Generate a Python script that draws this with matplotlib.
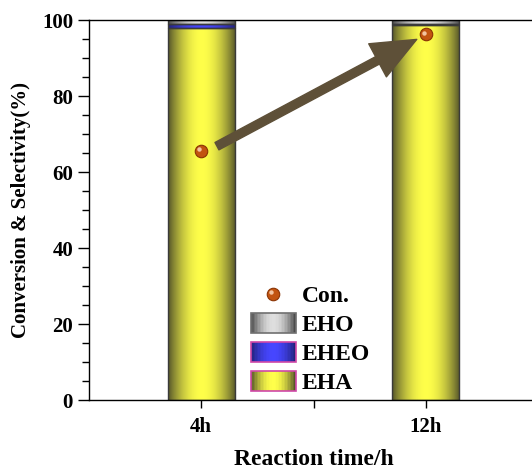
import numpy as np
import matplotlib
matplotlib.use('Agg')
import matplotlib.pyplot as plt
from matplotlib.patches import Rectangle
from matplotlib.lines import Line2D
from matplotlib.legend_handler import HandlerBase
from matplotlib.colors import to_rgb
from matplotlib.ticker import MultipleLocator
import matplotlib.transforms as transforms

times = ['4h', '12h']
eha = [98.0, 98.6]
eheo = [1.0, 0.4]
eho = [1.0, 1.0]
conversion = [65.5, 96.2]

plt.rcParams['font.family'] = ['Liberation Serif', 'DejaVu Serif']
plt.rcParams['font.weight'] = 'bold'
plt.rcParams['axes.labelweight'] = 'bold'

fills = {
    'EHA': ('#56562a', '#ffff4a'),
    'EHEO': ('#22227a', '#4646ff'),
    'EHO': ('#4c4c4c', '#dedede'),
}
box_edge = {'EHA': '#d048a8', 'EHEO': '#d048a8', 'EHO': '#707070'}


def shade(dark, light, n=64):
    t = np.linspace(0, 1, n)
    w = np.sin(np.pi * t) ** 0.9
    d = np.array(to_rgb(dark))
    l = np.array(to_rgb(light))
    return d[None, :] + (l - d)[None, :] * w[:, None]


def cylinder(ax, bars, cols):
    img = shade(*cols)[None, :, :]
    for b in bars:
        x0, y0 = b.get_x(), b.get_y()
        im = ax.imshow(img, extent=(x0, x0 + b.get_width(), y0, y0 + b.get_height()),
                       aspect='auto', interpolation='bilinear', zorder=1)
        im.set_clip_path(b)


class GradHandler(HandlerBase):
    def __init__(self, cols, edge):
        super().__init__()
        self.cols = cols
        self.edge = edge

    def create_artists(self, legend, orig, xd, yd, w, h, fs, trans):
        c = shade(*self.cols, n=30)
        arts = []
        for i, col in enumerate(c):
            arts.append(Rectangle((-xd + w * i / 30, -yd), w / 30 * 1.05, h,
                                  fc=col, ec='none', transform=trans))
        arts.append(Rectangle((-xd, -yd), w, h, fc='none', ec=self.edge, lw=1.2, transform=trans))
        return arts


class SphereHandler(HandlerBase):
    def create_artists(self, legend, orig, xd, yd, w, h, fs, trans):
        cx, cy = -xd + w / 2, -yd + h / 2
        a = Line2D([cx], [cy], marker='o', ms=9, mfc='#c25410', mec='#8a3404', mew=0.8, transform=trans)
        b = Line2D([cx - 1.3], [cy + 1.3], marker='o', ms=3.2, mfc='#f2c4a0', mec='none', transform=trans)
        return [a, b]


fig = plt.figure(figsize=(5.32, 4.70), dpi=100)
ax = fig.add_axes([89 / 532, 70 / 470, 449 / 532, 380 / 470])

x = np.arange(1, len(times) + 1)
width = 0.3
bottoms = np.zeros(len(times))
handles = {}
for name, vals in [('EHA', eha), ('EHEO', eheo), ('EHO', eho)]:
    bars = ax.bar(x, vals, width, bottom=bottoms, facecolor='none', edgecolor='#3a3a3a',
                  linewidth=1, zorder=2)
    cylinder(ax, bars, fills[name])
    handles[name] = bars
    bottoms = bottoms + np.array(vals)

ax.annotate('', xy=(x[1] - 0.04, conversion[1] - 1.3), xytext=(x[0] + 0.07, conversion[0] + 1.3),
            arrowprops=dict(arrowstyle='simple,head_length=1.6,head_width=1.35,tail_width=0.3',
                            color='#5e5038', mutation_scale=20, shrinkA=0, shrinkB=0), zorder=4)

ax.plot(x, conversion, 'o', ms=9, mfc='#c25410', mec='#8a3404', mew=0.8, zorder=5)
hl = transforms.offset_copy(ax.transData, fig=fig, x=-1.3, y=1.3, units='points')
ax.plot(x, conversion, 'o', ms=3.2, mfc='#f2c4a0', mec='none', zorder=6, transform=hl)

ax.set_xlim(0.5, 2.5)
ax.set_ylim(0, 100)
ax.set_xticks(x)
ax.set_xticklabels(times)
ax.set_xticks([1.5], minor=True)
ax.yaxis.set_major_locator(MultipleLocator(20))
ax.yaxis.set_minor_locator(MultipleLocator(5))
ax.tick_params(which='both', direction='out', width=1, labelsize=15)
ax.tick_params(axis='y', which='major', length=8)
ax.tick_params(axis='y', which='minor', length=5)
ax.tick_params(axis='x', which='both', length=6, pad=6)
for s in ax.spines.values():
    s.set_linewidth(1)
ax.set_xlabel('Reaction time/h', fontsize=17, fontweight='bold', labelpad=9)
ax.set_ylabel('Conversion & Selectivity(%)', fontsize=15, fontweight='bold', labelpad=8)

con_handle = Line2D([], [])
leg_h = [con_handle, handles['EHO'], handles['EHEO'], handles['EHA']]
hmap = {con_handle: SphereHandler()}
for name in ['EHO', 'EHEO', 'EHA']:
    hmap[handles[name]] = GradHandler(fills[name], box_edge[name])
ax.legend(leg_h, ['Con.', 'EHO', 'EHEO', 'EHA'], handler_map=hmap, frameon=False,
          loc='lower left', bbox_to_anchor=(0.36, 0.015), borderpad=0, borderaxespad=0,
          prop={'size': 17, 'weight': 'bold'}, handlelength=1.9, handleheight=0.93,
          handletextpad=0.25, labelspacing=0.25)

fig.savefig('out.png', dpi=100)
